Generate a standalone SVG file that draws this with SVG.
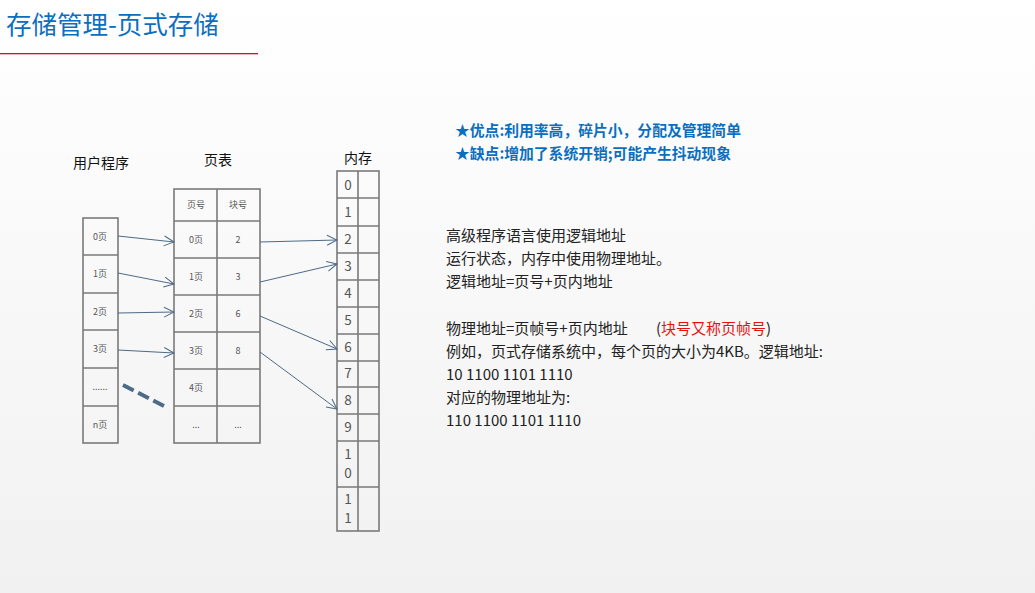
<svg xmlns="http://www.w3.org/2000/svg" width="1035" height="593" viewBox="0 0 1035 593">
<defs>
<linearGradient id="bg" x1="0" y1="0" x2="0" y2="1">
<stop offset="0" stop-color="#ffffff"/>
<stop offset="1" stop-color="#f1f1f1"/>
</linearGradient>
<marker id="arr" markerWidth="12" markerHeight="12" refX="11" refY="6" orient="auto" markerUnits="userSpaceOnUse">
<path d="M1,1 L11,6 L1,11" fill="none" stroke="#4d6a88" stroke-width="1"/>
</marker>
<style>
.f{font-family:"Noto Sans CJK SC","Microsoft YaHei",sans-serif}
.cell{fill:none;stroke:#7a7a7a;stroke-width:1.6}
.sm{font-size:9px;fill:#555;text-anchor:middle}
.mem{font-size:13.5px;fill:#555;text-anchor:middle}
.lbl{font-size:14px;fill:#111}
.body{font-size:15px;fill:#222}
.adv{font-size:14.8px;fill:#0b6fbf;font-weight:bold}
.con{stroke:#4d6a88;stroke-width:1;fill:none;marker-end:url(#arr)}
</style>
</defs>
<rect width="1035" height="593" fill="url(#bg)"/>
<g id="title">
<text x="6" y="34" class="f" font-size="25.5" fill="#0b6fbf">存储管理-页式存储</text>
<rect x="0" y="53" width="258" height="1.3" fill="#e01010"/>
</g>
<g id="labels" class="f">
<text x="73" y="168" class="lbl">用户程序</text>
<text x="218" y="165" class="lbl" text-anchor="middle">页表</text>
<text x="358" y="163" class="lbl" text-anchor="middle">内存</text>
</g>
<g id="user-program" class="f">
<rect x="83" y="218" width="35" height="225" class="cell"/>
<path d="M83,255H118M83,293H118M83,330H118M83,368H118M83,406H118" class="cell"/>
<text x="100" y="240" class="sm">0页</text>
<text x="100" y="277" class="sm">1页</text>
<text x="100" y="315" class="sm">2页</text>
<text x="100" y="352" class="sm">3页</text>
<text x="100" y="390" class="sm">......</text>
<text x="100" y="428" class="sm">n页</text>
</g>
<g id="page-table" class="f">
<rect x="174" y="189" width="86" height="254" class="cell"/>
<path d="M217,189V443M174,221H260M174,258H260M174,295H260M174,332H260M174,369H260M174,406H260" class="cell"/>
<text x="196" y="208" class="sm">页号</text>
<text x="238" y="208" class="sm">块号</text>
<text x="196" y="243" class="sm">0页</text><text x="238" y="243" class="sm">2</text>
<text x="196" y="280" class="sm">1页</text><text x="238" y="280" class="sm">3</text>
<text x="196" y="317" class="sm">2页</text><text x="238" y="317" class="sm">6</text>
<text x="196" y="354" class="sm">3页</text><text x="238" y="354" class="sm">8</text>
<text x="196" y="391" class="sm">4页</text>
<text x="196" y="428" class="sm">...</text><text x="238" y="428" class="sm">...</text>
</g>
<g id="memory" class="f">
<rect x="337" y="171" width="42" height="360" class="cell"/>
<path d="M358,171V531M337,198H379M337,226H379M337,253H379M337,280H379M337,307H379M337,334H379M337,361H379M337,387H379M337,414H379M337,441H379M337,487H379" class="cell"/>
<text x="348" y="190" class="mem">0</text>
<text x="348" y="217" class="mem">1</text>
<text x="348" y="244" class="mem">2</text>
<text x="348" y="271" class="mem">3</text>
<text x="348" y="298" class="mem">4</text>
<text x="348" y="325" class="mem">5</text>
<text x="348" y="352" class="mem">6</text>
<text x="348" y="378" class="mem">7</text>
<text x="348" y="405" class="mem">8</text>
<text x="348" y="432" class="mem">9</text>
<text x="348" y="459" class="mem">1</text>
<text x="348" y="478" class="mem">0</text>
<text x="348" y="504" class="mem">1</text>
<text x="348" y="523" class="mem">1</text>
</g>
<g id="connectors">
<line x1="118" y1="236" x2="174" y2="242" class="con"/>
<line x1="118" y1="273" x2="174" y2="284" class="con"/>
<line x1="118" y1="313" x2="174" y2="312" class="con"/>
<line x1="118" y1="350" x2="174" y2="353" class="con"/>
<line x1="123" y1="385" x2="168" y2="408" stroke="#4d6a88" stroke-width="4" stroke-dasharray="12,5"/>
<line x1="260" y1="242" x2="337" y2="240" class="con"/>
<line x1="260" y1="282" x2="337" y2="264" class="con"/>
<line x1="260" y1="316" x2="337" y2="349" class="con"/>
<line x1="260" y1="352" x2="337" y2="409" class="con"/>
</g>
<g id="notes" class="f">
<text x="455" y="136" class="adv">★优点:利用率高，碎片小，分配及管理简单</text>
<text x="455" y="159" class="adv">★缺点:增加了系统开销;可能产生抖动现象</text>
<text x="446" y="241" class="body">高级程序语言使用逻辑地址</text>
<text x="446" y="264" class="body">运行状态，内存中使用物理地址。</text>
<text x="446" y="287" class="body">逻辑地址=页号+页内地址</text>
<text x="446" y="334" class="body">物理地址=页帧号+页内地址<tspan x="656">(</tspan><tspan fill="#e81010">块号又称页帧号</tspan>)</text>
<text x="446" y="357" class="body">例如，页式存储系统中，每个页的大小为4KB。逻辑地址:</text>
<text x="446" y="380" class="body">10 1100 1101 1110</text>
<text x="446" y="403" class="body">对应的物理地址为:</text>
<text x="446" y="426" class="body">110 1100 1101 1110</text>
</g>
</svg>
